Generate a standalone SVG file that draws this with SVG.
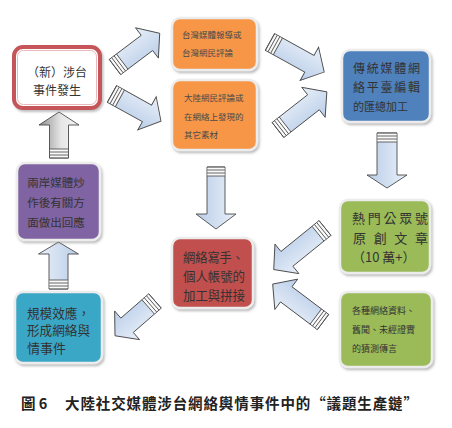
<svg xmlns="http://www.w3.org/2000/svg" width="452" height="428" viewBox="0 0 452 428">
<defs>
<linearGradient id="ag" x1="0" y1="0" x2="0" y2="1">
<stop offset="0" stop-color="#e9f0f9"/>
<stop offset="1" stop-color="#b9cde8"/>
</linearGradient>
<linearGradient id="gg" x1="0" y1="0" x2="0" y2="1">
<stop offset="0" stop-color="#8e8e8e"/>
<stop offset="0.55" stop-color="#e6e6e6"/>
<stop offset="1" stop-color="#f6f6f6"/>
</linearGradient>
<filter id="sh" x="-10%" y="-10%" width="125%" height="125%">
<feDropShadow dx="1.5" dy="2" stdDeviation="1.2" flood-color="#8a8a8a" flood-opacity="0.55"/>
</filter>
<style>
.box{stroke:#ececec;stroke-width:2.5;filter:url(#sh)}
.arr{fill:url(#ag);stroke:#4a4a4a;stroke-width:0.9;stroke-linejoin:miter}
.gray{fill:url(#gg)}
.tail{fill:#fafafa;stroke:none}
.st{stroke:#555;stroke-width:0.9}
text{font-family:"Noto Sans CJK TC","Noto Sans CJK SC",sans-serif;fill:#333}
.s{font-size:8.5px;fill:#4a4a4a}
.m{font-size:12px}
.l{font-size:13px}
.cap{font-size:14.5px;font-weight:bold;fill:#222}
</style>
</defs>
<rect width="452" height="428" fill="#ffffff"/>

<g id="connectors">
<g transform="translate(115,67) rotate(-37)">
<path class="arr" d="M0,-9.5 L40,-9.5 L40,-19 L56,0 L40,19 L40,9.5 L0,9.5 Z"/>
<rect class="tail" x="0.5" y="-9" width="8.5" height="18"/>
<path class="st" d="M0,-9.5V9.5M3,-9.5V9.5M6,-9.5V9.5M9,-9.5V9.5"/>
</g>
<g transform="translate(112,94) rotate(29)">
<path class="arr" d="M0,-9.5 L40,-9.5 L40,-19 L56,0 L40,19 L40,9.5 L0,9.5 Z"/>
<rect class="tail" x="0.5" y="-9" width="8.5" height="18"/>
<path class="st" d="M0,-9.5V9.5M3,-9.5V9.5M6,-9.5V9.5M9,-9.5V9.5"/>
</g>
<g transform="translate(270,42) rotate(29)">
<path class="arr" d="M0,-9.5 L45,-9.5 L45,-19 L62,0 L45,19 L45,9.5 L0,9.5 Z"/>
<rect class="tail" x="0.5" y="-9" width="8.5" height="18"/>
<path class="st" d="M0,-9.5V9.5M3,-9.5V9.5M6,-9.5V9.5M9,-9.5V9.5"/>
</g>
<g transform="translate(278,130) rotate(-38)">
<path class="arr" d="M0,-9.5 L45,-9.5 L45,-19 L62,0 L45,19 L45,9.5 L0,9.5 Z"/>
<rect class="tail" x="0.5" y="-9" width="8.5" height="18"/>
<path class="st" d="M0,-9.5V9.5M3,-9.5V9.5M6,-9.5V9.5M9,-9.5V9.5"/>
</g>
<g transform="translate(387,133) rotate(90)">
<path class="arr" d="M0,-10 L42,-10 L42,-20 L55,0 L42,20 L42,10 L0,10 Z"/>
<rect class="tail" x="0.5" y="-9.5" width="8.5" height="19"/>
<path class="st" d="M0,-10V10M3,-10V10M6,-10V10M9,-10V10"/>
</g>
<g transform="translate(216,167) rotate(90)">
<path class="arr" d="M0,-9 L47,-9 L47,-20 L62,0 L47,20 L47,9 L0,9 Z"/>
<rect class="tail" x="0.5" y="-8.5" width="8.5" height="17"/>
<path class="st" d="M0,-9V9M3,-9V9M6,-9V9M9,-9V9"/>
</g>
<g transform="translate(325,228) rotate(141)">
<path class="arr" d="M0,-9.5 L49,-9.5 L49,-19 L66,0 L49,19 L49,9.5 L0,9.5 Z"/>
<rect class="tail" x="0.5" y="-9" width="8.5" height="18"/>
<path class="st" d="M0,-9.5V9.5M3,-9.5V9.5M6,-9.5V9.5M9,-9.5V9.5"/>
</g>
<g transform="translate(323,322) rotate(217)">
<path class="arr" d="M0,-9.5 L46,-9.5 L46,-19 L63,0 L46,19 L46,9.5 L0,9.5 Z"/>
<rect class="tail" x="0.5" y="-9" width="8.5" height="18"/>
<path class="st" d="M0,-9.5V9.5M3,-9.5V9.5M6,-9.5V9.5M9,-9.5V9.5"/>
</g>
<g transform="translate(155,301) rotate(139)">
<path class="arr" d="M0,-9.5 L37,-9.5 L37,-19 L53,0 L37,19 L37,9.5 L0,9.5 Z"/>
<rect class="tail" x="0.5" y="-9" width="8.5" height="18"/>
<path class="st" d="M0,-9.5V9.5M3,-9.5V9.5M6,-9.5V9.5M9,-9.5V9.5"/>
</g>
<g transform="translate(58.5,289) rotate(-90)">
<path class="arr" d="M0,-9.5 L35,-9.5 L35,-20 L47,0 L35,20 L35,9.5 L0,9.5 Z"/>
<rect class="tail" x="0.5" y="-9" width="8.5" height="18"/>
<path class="st" d="M0,-9.5V9.5M3,-9.5V9.5M6,-9.5V9.5M9,-9.5V9.5"/>
</g>
<g transform="translate(59,158) rotate(-90)">
<path class="arr gray" d="M0,-9.5 L33,-9.5 L33,-20 L46,0 L33,20 L33,9.5 L0,9.5 Z"/>
<rect class="tail" x="0.5" y="-9" width="8.5" height="18"/>
<path class="st" d="M0,-9.5V9.5M3,-9.5V9.5M6,-9.5V9.5M9,-9.5V9.5"/>
</g>
</g>

<g id="n1">
<rect x="14" y="47" width="86" height="61" rx="9" fill="#ffffff" stroke="#c55458" stroke-width="4" filter="url(#sh)"/>
<rect x="17.5" y="50.5" width="79" height="54" rx="6" fill="none" stroke="#eab8b8" stroke-width="1"/>
<text class="m" x="57" y="76.5" text-anchor="middle" fill="#555">（新）涉台</text>
<text class="m" x="57" y="94.5" text-anchor="middle" fill="#555">事件發生</text>
</g>

<g id="n2">
<rect class="box" x="172" y="18" width="85" height="52" rx="8" fill="#f79646"/>
<text class="s" x="182" y="38">台灣媒體報導或</text>
<text class="s" x="182" y="56">台灣網民評論</text>
</g>

<g id="n3">
<rect class="box" x="172" y="80" width="85" height="70" rx="8" fill="#f79646"/>
<text class="s" x="184" y="101">大陸網民評論或</text>
<text class="s" x="184" y="120">在網絡上發現的</text>
<text class="s" x="184" y="138">其它素材</text>
</g>

<g id="n4">
<rect class="box" x="342" y="50" width="88" height="72" rx="8" fill="#4f81bd"/>
<text class="m" x="353" y="72.5" textLength="67" lengthAdjust="spacing">傳統媒體網</text>
<text class="m" x="353" y="91.5" textLength="67" lengthAdjust="spacing">絡平臺編輯</text>
<text x="353" y="111" style="font-size:11px">的匯總加工</text>
</g>

<g id="n5">
<rect class="box" x="340" y="200" width="90" height="73" rx="8" fill="#9bbb59"/>
<text class="l" x="352" y="223" textLength="76" lengthAdjust="spacing">熱門公眾號</text>
<text class="l" x="353" y="243" textLength="75" lengthAdjust="spacing">原創文章</text>
<text class="l" x="352" y="262">（10 萬+）</text>
</g>

<g id="n6">
<rect class="box" x="340" y="292" width="92" height="75" rx="8" fill="#9bbb59"/>
<text x="352" y="313.5" style="font-size:9px">各種網絡資料、</text>
<text x="352" y="333" style="font-size:9px">舊聞、未經證實</text>
<text x="352" y="351.5" style="font-size:9px">的猜測傳言</text>
</g>

<g id="n7">
<rect class="box" x="172" y="238" width="81" height="70" rx="8" fill="#c0504d"/>
<text class="l" x="183" y="262" textLength="61" lengthAdjust="spacingAndGlyphs">網絡寫手、</text>
<text class="l" x="183" y="281" textLength="62" lengthAdjust="spacingAndGlyphs">個人帳號的</text>
<text class="l" x="183" y="300" textLength="62" lengthAdjust="spacingAndGlyphs">加工與拼接</text>
</g>

<g id="n8">
<rect class="box" x="15" y="292" width="87" height="71" rx="8" fill="#3ba7c7"/>
<text class="l" x="27" y="317.5" textLength="63" lengthAdjust="spacingAndGlyphs">規模效應，</text>
<text class="l" x="27" y="335" textLength="63" lengthAdjust="spacingAndGlyphs">形成網絡與</text>
<text class="l" x="27" y="352.5">情事件</text>
</g>

<g id="n9">
<rect class="box" x="17" y="163" width="83" height="77" rx="8" fill="#8064a2"/>
<text x="56" y="187" text-anchor="middle" style="font-size:11.5px">兩岸媒體炒</text>
<text x="56" y="207" text-anchor="middle" style="font-size:11.5px">作後有關方</text>
<text x="56" y="227" text-anchor="middle" style="font-size:11.5px">面做出回應</text>
</g>

<g id="caption">
<text class="cap" x="21" y="409">圖 6</text>
<text class="cap" x="65" y="409" textLength="353" lengthAdjust="spacing">大陸社交媒體涉台網絡輿情事件中的“議題生產鏈”</text>
</g>
</svg>
